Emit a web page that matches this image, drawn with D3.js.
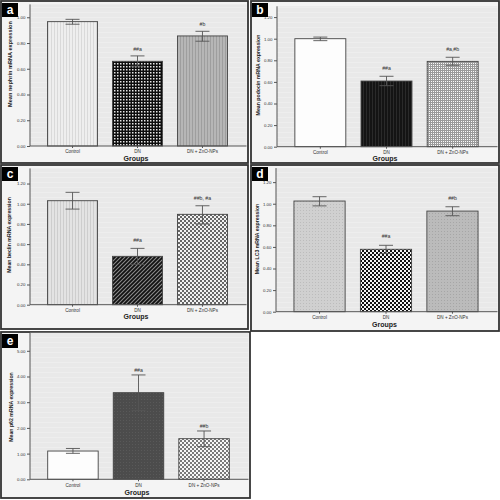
<!DOCTYPE html>
<html><head><meta charset="utf-8">
<script src="https://cdn.jsdelivr.net/npm/d3@7"></script>
<style>
html,body{margin:0;padding:0;background:#fff;}
svg{display:block;font-family:"Liberation Sans",Arial,sans-serif;}
</style></head>
<body>
<svg id="chart" width="500" height="500"></svg>
<script>
// ---------- data ----------
const categories = ["Control", "DN", "DN + ZnO-NPs"];

const nephrinMean = [0.966, 0.658, 0.855];
const nephrinLow  = [0.946, 0.620, 0.814];
const nephrinHigh = [0.984, 0.700, 0.891];
const nephrinNotes = ["", "##a", "#b"];

const podocinMean = [1.000, 0.608, 0.790];
const podocinLow  = [0.982, 0.565, 0.754];
const podocinHigh = [1.015, 0.652, 0.828];
const podocinNotes = ["", "##a", "#a,#b"];

const beclinMean = [1.030, 0.479, 0.895];
const beclinLow  = [0.947, 0.400, 0.800];
const beclinHigh = [1.113, 0.558, 0.980];
const beclinNotes = ["", "##a", "##b, #a"];

const lc3Mean = [1.025, 0.578, 0.932];
const lc3Low  = [0.980, 0.540, 0.889];
const lc3High = [1.065, 0.615, 0.972];
const lc3Notes = ["", "##a", "##b"];

const p62Mean = [1.10, 3.37, 1.58];
const p62Low  = [1.01, 2.68, 1.27];
const p62High = [1.20, 4.06, 1.88];
const p62Notes = ["", "##a", "##b"];

const ticksA = [0, 0.2, 0.4, 0.6, 0.8, 1.0];
const ticksBCD = [0, 0.2, 0.4, 0.6, 0.8, 1.0, 1.2];
const ticksE = [0, 1, 2, 3, 4, 5];

const panelLetters = ["a", "b", "c", "d", "e"];
const yTitles = ["Mean nephrin mRNA expression", "Mean podocin mRNA expression",
  "Mean beclin mRNA expression", "Mean LC3 mRNA expression", "Mean p62 mRNA expression"];
const xTitle = "Groups";

// ---------- patterns ----------
const svg = d3.select("#chart");
const defs = svg.append("defs");

function pat(id, w, h, bg, draw) {
  const p = defs.append("pattern").attr("id", id).attr("patternUnits", "userSpaceOnUse")
    .attr("width", w).attr("height", h);
  p.append("rect").attr("width", w).attr("height", h).attr("fill", bg);
  if (draw) draw(p);
}
function vlines(col) { return p => p.append("rect").attr("x", 0).attr("y", 0).attr("width", 1).attr("height", 3).attr("fill", col); }
function squares(col, s) { return p => p.append("rect").attr("x", 0).attr("y", 0).attr("width", s).attr("height", s).attr("fill", col); }
function checker(col) { return p => { p.append("rect").attr("x",0).attr("y",0).attr("width",2).attr("height",2).attr("fill",col);
                                       p.append("rect").attr("x",2).attr("y",2).attr("width",2).attr("height",2).attr("fill",col); }; }

pat("plotbg", 6, 5, "#e9e9e9", p => p.append("rect").attr("x",0).attr("y",2).attr("width",6).attr("height",1).attr("fill","#eeeeee"));
pat("pA0", 3, 3, "#eeeeee", vlines("#d9d9d9"));
pat("pA1", 3, 3, "#0d0d0d", squares("#e6e6e6", 1.5));
pat("pA2", 3, 3, "#b6b6b6", vlines("#9e9e9e"));
pat("pB0", 3, 3, "#fdfdfd", null);
pat("pB1", 3, 3, "#141414", vlines("#2a2a2a"));
pat("pB2", 2, 2, "#fafafa", p => { p.append("rect").attr("width",2).attr("height",1).attr("fill","#9a9a9a"); p.append("rect").attr("width",1).attr("height",2).attr("fill","#9a9a9a"); });
pat("pC0", 3, 3, "#e3e3e3", vlines("#cdcdcd"));
pat("pC1", 4, 4, "#8c8c8c", p => p.append("path").attr("d","M0,4 L4,0 M-1,1 L1,-1 M3,5 L5,3").attr("stroke","#111").attr("stroke-width",1.8));
pat("pC2", 4, 4, "#f0f0f0", checker("#666666"));
pat("pD0", 3, 3, "#d0d0d0", squares("#bcbcbc", 1));
pat("pD1", 4, 4, "#f4f4f4", checker("#111111"));
pat("pD2", 3, 3, "#bbbbbb", squares("#a6a6a6", 1));
pat("pE0", 3, 3, "#fdfdfd", null);
pat("pE1", 3, 3, "#4c4c4c", squares("#595959", 1));
pat("pE2", 4, 4, "#f7f7f7", checker("#7a7a7a"));

// ---------- panel geometry ----------
const layout = [
  { frame: [1, 1, 247, 162], axisX: 30, right: 245, base: 146, dmax: 1.1, top: 4.4,
    ytx: 11, yty: 64, yfs: 5.6, gy: 159, noteOff: 5, fills: ["pA0","pA1","pA2"] },
  { frame: [251, 1, 248, 162], axisX: 277, right: 496, base: 146.7, dmax: 1.3, top: 6.3,
    ytx: 259, yty: 75, yfs: 5.2, gy: 159, noteOff: 6, fills: ["pB0","pB1","pB2"] },
  { frame: [1, 165, 247, 164], axisX: 30, right: 245, base: 304.7, dmax: 1.35, top: 168.4,
    ytx: 10, yty: 235, yfs: 5.2, gy: 317, noteOff: 6, fills: ["pC0","pC1","pC2"] },
  { frame: [251, 165, 248, 166], axisX: 276, right: 496, base: 311.7, dmax: 1.33, top: 168.1,
    ytx: 258, yty: 239, yfs: 5.2, gy: 325, noteOff: 7, fills: ["pD0","pD1","pD2"] },
  { frame: [1, 332, 249, 166], axisX: 30, right: 247, base: 479.3, dmax: 5.7, top: 332.8,
    ytx: 12, yty: 407, yfs: 5.2, gy: 493, noteOff: 3, fills: ["pE0","pE1","pE2"] }
];

const panelData = [
  [nephrinMean, nephrinLow, nephrinHigh, nephrinNotes, ticksA],
  [podocinMean, podocinLow, podocinHigh, podocinNotes, ticksBCD],
  [beclinMean, beclinLow, beclinHigh, beclinNotes, ticksBCD],
  [lc3Mean, lc3Low, lc3High, lc3Notes, ticksBCD],
  [p62Mean, p62Low, p62High, p62Notes, ticksE]
];

const axisCol = "#555";

layout.forEach((L, i) => {
  const [mean, low, high, notes, ticks] = panelData[i];
  const [fx, fy, fw, fh] = L.frame;
  const g = svg.append("g");

  // panel background + frame
  g.append("rect").attr("x", fx).attr("y", fy).attr("width", fw).attr("height", fh)
    .attr("fill", "#f4f4f4").attr("stroke", "#333").attr("stroke-width", 1.8);

  const x = d3.scaleBand().domain(categories).range([L.axisX, L.right]).paddingInner(0.23).paddingOuter(0.27);
  const y = d3.scaleLinear().domain([0, L.dmax]).range([L.base, L.top]);

  // plot area
  g.append("rect").attr("x", L.axisX).attr("y", L.top).attr("width", fx + fw - 1.5 - L.axisX)
    .attr("height", L.base - L.top).attr("fill", "url(#plotbg)");

  // bars
  g.selectAll(".bar").data(categories).join("rect")
    .attr("x", d => x(d)).attr("width", x.bandwidth())
    .attr("y", (d, k) => y(mean[k])).attr("height", (d, k) => y(0) - y(mean[k]))
    .attr("fill", (d, k) => `url(#${L.fills[k]})`).attr("stroke", "#444").attr("stroke-width", 0.9);

  // error bars
  const cap = 7;
  categories.forEach((c, k) => {
    const cx = x(c) + x.bandwidth() / 2;
    g.append("line").attr("x1", cx).attr("x2", cx).attr("y1", y(low[k])).attr("y2", y(high[k]))
      .attr("stroke", "#555").attr("stroke-width", 0.9);
    [low[k], high[k]].forEach(v => g.append("line").attr("x1", cx - cap).attr("x2", cx + cap)
      .attr("y1", y(v)).attr("y2", y(v)).attr("stroke", "#555").attr("stroke-width", 0.9));
    if (notes[k]) {
      g.append("text").attr("x", cx).attr("y", y(high[k]) - L.noteOff)
        .attr("text-anchor", "middle").attr("font-size", 5.2).attr("fill", "#333").text(notes[k]);
    }
  });

  // axes
  const ya = g.append("g").attr("transform", `translate(${L.axisX},0)`)
    .call(d3.axisLeft(y).tickValues(ticks).tickFormat(d3.format(".2f")).tickSize(3).tickPadding(1.5));
  ya.select(".domain").attr("d", `M0,${L.base}V${L.top}`);
  ya.selectAll("text").attr("font-size", 4.4).attr("fill", "#333").attr("font-family", null);
  ya.selectAll("line,path").attr("stroke", axisCol);

  const xa = g.append("g").attr("transform", `translate(0,${L.base})`)
    .call(d3.axisBottom(x).tickSize(2).tickPadding(2));
  xa.select(".domain").attr("d", `M${L.axisX},0H${fx + fw - 1.5}`);
  xa.selectAll("text").attr("font-size", 4.6).attr("fill", "#333").attr("font-family", null);
  xa.selectAll("line,path").attr("stroke", axisCol);

  // titles
  g.append("text").attr("transform", `translate(${L.ytx},${L.yty}) rotate(-90)`)
    .attr("text-anchor", "middle").attr("dominant-baseline", "middle")
    .attr("font-size", L.yfs).attr("font-weight", "bold").attr("fill", "#222").text(yTitles[i]);
  g.append("text").attr("x", (L.axisX + fx + fw) / 2 - 3).attr("y", L.gy)
    .attr("text-anchor", "middle").attr("dominant-baseline", "middle")
    .attr("font-size", 7).attr("font-weight", "bold").attr("fill", "#222").text(xTitle);

  // letter box
  g.append("rect").attr("x", fx + 1).attr("y", fy + 2).attr("width", 16).attr("height", 14).attr("fill", "#000");
  g.append("text").attr("x", fx + 9).attr("y", fy + 9.5).attr("text-anchor", "middle")
    .attr("dominant-baseline", "middle").attr("font-size", 12).attr("font-weight", "bold")
    .attr("fill", "#fff").text(panelLetters[i]);
});
</script>
</body></html>
